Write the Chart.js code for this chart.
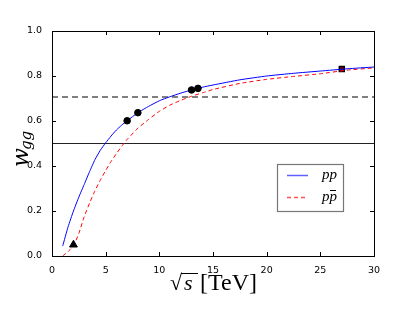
<!DOCTYPE html>
<html>
<head>
<meta charset="utf-8">
<script src="https://cdn.jsdelivr.net/npm/chart.js@4/dist/chart.umd.min.js"></script>
<style>
body { margin: 0; background: #fff; }
#wrap { width: 415px; height: 312px; }
</style>
</head>
<body>
<div id="wrap"><canvas id="myChart" width="415" height="312"></canvas></div>
<script>
// curve samples
let sqrtS = [1, 1.5, 2, 2.5, 3, 3.5, 4, 4.5, 5, 5.5, 6, 6.5, 7, 8, 9, 10, 11, 12, 13, 14, 15, 17.5, 20, 22.5, 25, 27.5, 30]
let wPP = [0.045, 0.13, 0.2, 0.262, 0.318, 0.375, 0.428, 0.47, 0.503, 0.533, 0.56, 0.582, 0.601, 0.637, 0.665, 0.69, 0.708, 0.724, 0.738, 0.75, 0.76, 0.783, 0.8, 0.812, 0.822, 0.832, 0.84]
let wPPbar = [0.0, 0.02, 0.045, 0.1, 0.175, 0.235, 0.29, 0.337, 0.38, 0.42, 0.455, 0.488, 0.518, 0.568, 0.607, 0.643, 0.671, 0.692, 0.71, 0.725, 0.74, 0.767, 0.785, 0.798, 0.81, 0.826, 0.836]

// measured points
let dotX = [7, 8, 13, 13.6]
let dotY = [0.601, 0.637, 0.738, 0.745]
let triX = [2], triY = [0.05]
let sqX = [27], sqY = [0.831]

// reference lines
let refLevels = [0.5, 1 / Math.sqrt(2)]

let xTicks = [0, 5, 10, 15, 20, 25, 30]
let yTicks = [0.0, 0.2, 0.4, 0.6, 0.8, 1.0]

function pts(xs, ys) {
    return xs.map((x, i) => ({ x: x, y: ys[i] }))
}

let framePlugin = {
    id: 'frame',
    afterDraw(chart) {
        let ctx = chart.ctx
        let a = chart.chartArea
        let xs = chart.scales.x, ys = chart.scales.y
        ctx.save()
        ctx.strokeStyle = '#000'
        ctx.lineWidth = 1
        ctx.strokeRect(a.left + 0.5, a.top + 0.5, a.right - a.left, a.bottom - a.top)
        ctx.beginPath()
        xTicks.forEach(v => {
            let p = Math.round(xs.getPixelForValue(v)) + 0.5
            ctx.moveTo(p, a.bottom); ctx.lineTo(p, a.bottom - 4)
            ctx.moveTo(p, a.top); ctx.lineTo(p, a.top + 4)
        })
        yTicks.forEach(v => {
            let p = Math.round(ys.getPixelForValue(v)) + 0.5
            ctx.moveTo(a.left, p); ctx.lineTo(a.left + 4, p)
            ctx.moveTo(a.right, p); ctx.lineTo(a.right - 4, p)
        })
        ctx.stroke()

        // y title w_gg
        ctx.fillStyle = '#000'
        ctx.save()
        ctx.translate(28, 150)
        ctx.rotate(-Math.PI / 2)
        ctx.font = 'italic 22px "DejaVu Serif"'
        ctx.textBaseline = 'alphabetic'
        ctx.fillText('w', -17, 0)
        ctx.font = 'italic 15px "DejaVu Serif"'
        ctx.fillText('gg', 0, 3)
        ctx.restore()

        // x title sqrt(s) [TeV]
        ctx.font = '22px "Liberation Serif"'
        ctx.fillText('\u221A', 170, 290)
        ctx.font = 'italic 22px "Liberation Serif"'
        ctx.fillText('s', 184, 290)
        ctx.beginPath()
        ctx.moveTo(181, 273.5); ctx.lineTo(198, 273.5)
        ctx.stroke()
        ctx.font = '24px "Liberation Serif"'
        ctx.fillText('[TeV]', 200, 290)

        // legend
        ctx.strokeStyle = '#777'
        ctx.lineWidth = 1.2
        ctx.strokeRect(277.5, 164.5, 66, 47)
        ctx.lineWidth = 1.5
        ctx.strokeStyle = '#6060ff'
        ctx.beginPath(); ctx.moveTo(287, 175.5); ctx.lineTo(308, 175.5); ctx.stroke()
        ctx.strokeStyle = '#ff5050'
        ctx.setLineDash([4, 3])
        ctx.beginPath(); ctx.moveTo(287, 197.5); ctx.lineTo(308, 197.5); ctx.stroke()
        ctx.setLineDash([])
        ctx.fillStyle = '#000'
        ctx.font = 'italic 15px "Liberation Serif"'
        ctx.fillText('pp', 322, 179)
        ctx.fillText('pp', 322, 201)
        ctx.strokeStyle = '#000'
        ctx.lineWidth = 1
        ctx.beginPath(); ctx.moveTo(330, 190.5); ctx.lineTo(336, 190.5); ctx.stroke()
        ctx.restore()
    }
}

new Chart("myChart", {
    type: "line",
    data: {
        datasets: [
            { data: pts(sqrtS, wPP), borderColor: '#0000ff', borderWidth: 1, pointRadius: 0, tension: 0.15, order: 2 },
            { data: pts(sqrtS, wPPbar), borderColor: '#ff0000', borderWidth: 1, borderDash: [4, 3], pointRadius: 0, tension: 0.15, order: 2 },
            { data: pts([0, 30], [refLevels[0], refLevels[0]]), borderColor: '#222', borderWidth: 1.2, pointRadius: 0, order: 3 },
            { data: pts([0, 30], [refLevels[1], refLevels[1]]), borderColor: '#555', borderWidth: 1.5, borderDash: [6, 4], pointRadius: 0, order: 3 },
            { type: 'scatter', data: pts(dotX, dotY), backgroundColor: '#000', borderColor: '#000', pointRadius: 3.3, order: 1 },
            { type: 'scatter', data: pts(triX, triY), backgroundColor: '#000', borderColor: '#000', pointStyle: 'triangle', pointRadius: 4.5, order: 1 },
            { type: 'scatter', data: pts(sqX, sqY), backgroundColor: '#700', borderColor: '#000', borderWidth: 1.5, pointStyle: 'rect', pointRadius: 3.5, order: 4 }
        ]
    },
    options: {
        responsive: false,
        animation: false,
        layout: { padding: { left: 0, top: 31, right: 41, bottom: 0 } },
        plugins: { legend: { display: false }, tooltip: { enabled: false } },
        scales: {
            x: {
                type: 'linear', min: 0, max: 30,
                afterFit: s => { s.height = 56 },
                afterBuildTicks: s => { s.ticks = xTicks.map(v => ({ value: v })) },
                grid: { display: false },
                border: { display: false },
                ticks: { color: '#000', padding: 1, font: { family: 'DejaVu Sans', size: 9.5 }, maxRotation: 0 }
            },
            y: {
                min: 0, max: 1,
                afterFit: s => { s.width = 52 },
                afterBuildTicks: s => { s.ticks = yTicks.map(v => ({ value: v })) },
                grid: { display: false },
                border: { display: false },
                ticks: { color: '#000', padding: 2, font: { family: 'DejaVu Sans', size: 9.5 }, callback: v => v.toFixed(1) }
            }
        }
    },
    plugins: [framePlugin]
});
</script>
</body>
</html>
